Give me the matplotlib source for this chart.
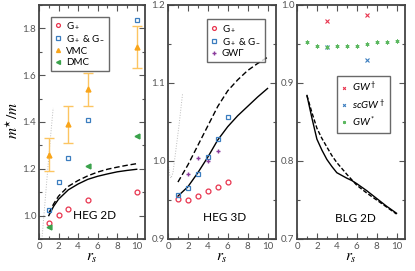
import matplotlib
matplotlib.use('Agg')
import matplotlib.pyplot as plt
from matplotlib.ticker import MultipleLocator

plt.rcParams['font.family'] = ['Lato', 'DejaVu Sans']
plt.rcParams['mathtext.fontset'] = 'custom'
plt.rcParams['mathtext.rm'] = 'Lato'
plt.rcParams['mathtext.it'] = 'Lato:italic'

# HEG 2D
g2_rs = [1, 2, 3, 5, 10]
g2_gp = [0.97, 1.003, 1.03, 1.065, 1.10]
g2_gpm = [1.025, 1.145, 1.245, 1.41, 1.835]
vmc_rs = [1, 3, 5, 10]
vmc_val = [1.26, 1.39, 1.54, 1.72]
vmc_err = [0.07, 0.08, 0.07, 0.09]
dmc_rs = [1, 5, 10]
dmc_val = [0.95, 1.21, 1.34]
c2_rs = [1, 1.5, 2, 3, 4, 5, 6, 7, 8, 9, 10]
c2_solid = [1.0, 1.04, 1.07, 1.11, 1.135, 1.155, 1.168, 1.178, 1.187, 1.193, 1.198]
c2_dash = [1.01, 1.05, 1.083, 1.125, 1.15, 1.17, 1.186, 1.198, 1.207, 1.215, 1.222]
gray2_rs = [0.3, 0.5, 0.8, 1.1, 1.45]
gray2_val = [0.9, 1.0, 1.15, 1.3, 1.46]

# HEG 3D
g3_rs = [1, 2, 3, 4, 5, 6]
g3_gp = [0.951, 0.950, 0.955, 0.961, 0.967, 0.973]
g3_gpm = [0.956, 0.965, 0.983, 1.005, 1.028, 1.057]
gwg_rs = [2, 3, 4, 5]
gwg_val = [0.983, 1.0035, 1.0005, 1.0125]
c3_rs = [1, 2, 3, 4, 5, 6, 7, 8, 9, 10]
c3_solid = [0.955, 0.967, 0.985, 1.005, 1.027, 1.044, 1.058, 1.07, 1.082, 1.093]
c3_dash = [0.973, 0.995, 1.02, 1.045, 1.07, 1.09, 1.104, 1.116, 1.125, 1.133]
gray3_rs = [0.0, 0.15, 0.3, 0.5, 0.8, 1.1, 1.47]
gray3_val = [0.999, 0.983, 0.978, 0.985, 1.015, 1.045, 1.087]

# BLG 2D
gwd_rs = [3, 7]
gwd_val = [0.979, 0.987]
scgw_rs = [3, 7]
scgw_val = [0.946, 0.929]
gws_rs = [1, 2, 3, 4, 5, 6, 7, 8, 9, 10]
gws_val = [0.952, 0.947, 0.946, 0.947, 0.947, 0.948, 0.950, 0.952, 0.953, 0.954]
cb_rs = [1, 1.5, 2, 2.5, 3, 3.5, 4, 5, 5.5, 6, 7, 8, 9, 10]
cb_solid = [0.884, 0.855, 0.828, 0.814, 0.802, 0.793, 0.785, 0.778, 0.775, 0.771, 0.762, 0.752, 0.742, 0.733]
cb_dash = [0.884, 0.862, 0.842, 0.829, 0.818, 0.807, 0.798, 0.783, 0.776, 0.769, 0.759, 0.750, 0.741, 0.732]

red = '#e8344e'
blue = '#3b7dbf'
orange = '#f9a51a'
green = '#3aa24b'
purple = '#8a3c9c'
edge = '#444444'

fig = plt.figure(figsize=(4.15, 2.71), dpi=100)
ax1 = fig.add_axes([39/415, 32/271, 106/415, 234/271])
ax2 = fig.add_axes([168/415, 32/271, 108/415, 234/271])
ax3 = fig.add_axes([297/415, 32/271, 108/415, 234/271])

for ax in (ax1, ax2, ax3):
    ax.set_xlim(0, 10.85)
    ax.xaxis.set_major_locator(MultipleLocator(2))
    ax.xaxis.set_minor_locator(MultipleLocator(1))
    ax.tick_params(which='both', direction='in', top=True, right=True,
                   labelsize=7, colors='#555555', pad=2)
    ax.tick_params(which='major', length=4, width=0.8)
    ax.tick_params(which='minor', length=2.5, width=0.8)
    for s in ax.spines.values():
        s.set_color(edge)
        s.set_linewidth(1.3)
    ax.set_xlabel('$r_s$', fontsize=11, labelpad=0, math_fontfamily='stix')

ms = 3.5
legkw = dict(frameon=True, fancybox=False, edgecolor=edge, handlelength=0.6,
             handletextpad=0.5, borderpad=0.4, labelspacing=0.25, markerscale=0.8)

# panel 1
ax1.plot(gray2_rs, gray2_val, color='#bbbbbb', lw=0.7, ls=':')
ax1.plot(c2_rs, c2_solid, color='black', lw=1.0)
ax1.plot(c2_rs, c2_dash, color='black', lw=1.0, ls=(0, (4, 2)))
h1, = ax1.plot(g2_rs, g2_gp, 'o', mfc='none', mec=red, ms=ms, mew=0.9)
h2, = ax1.plot(g2_rs, g2_gpm, 's', mfc='none', mec=blue, ms=ms, mew=0.9)
ax1.errorbar(vmc_rs, vmc_val, yerr=vmc_err, fmt='none',
             ecolor='#fcc561', elinewidth=1, capsize=3.5)
h3, = ax1.plot(vmc_rs, vmc_val, '^', color=orange, ms=ms)
h4, = ax1.plot(dmc_rs, dmc_val, '<', color=green, ms=ms)
ax1.set_ylim(0.9, 1.9)
ax1.yaxis.set_major_locator(MultipleLocator(0.2))
ax1.yaxis.set_minor_locator(MultipleLocator(0.1))
ax1.text(5.7, 1.0, 'HEG 2D', fontsize=8.5, ha='center', va='center')
ax1.legend([h1, h2, h3, h4], ['G$_+$', 'G$_+$ & G$_-$', 'VMC', 'DMC'],
           loc='upper left', bbox_to_anchor=(0.07, 0.97), fontsize=7, **legkw)

# panel 2
ax2.plot(gray3_rs, gray3_val, color='#bbbbbb', lw=0.7, ls=':')
ax2.plot(c3_rs, c3_solid, color='black', lw=1.0)
ax2.plot(c3_rs, c3_dash, color='black', lw=1.0, ls=(0, (4, 2)))
ax2.plot(g3_rs, g3_gp, 'o', mfc='none', mec=red, ms=ms, mew=0.9, label='G$_+$')
ax2.plot(g3_rs, g3_gpm, 's', mfc='none', mec=blue, ms=ms, mew=0.9, label='G$_+$ & G$_-$')
ax2.plot(gwg_rs, gwg_val, '+', color=purple, ms=ms, mew=1.0, label='GWΓ')
ax2.set_ylim(0.9, 1.2)
ax2.yaxis.set_major_locator(MultipleLocator(0.1))
ax2.yaxis.set_minor_locator(MultipleLocator(0.05))
ax2.text(5.7, 0.928, 'HEG 3D', fontsize=8.5, ha='center', va='center')
ax2.legend(loc='upper right', bbox_to_anchor=(0.94, 0.96), fontsize=7, **legkw)

# panel 3
ax3.plot(cb_rs, cb_solid, color='black', lw=1.0)
ax3.plot(cb_rs, cb_dash, color='black', lw=1.0, ls=(0, (3, 1.5)))
ax3.plot(gwd_rs, gwd_val, 'x', color=red, ms=2.5, mew=0.8, label='$GW^\\dagger$')
ax3.plot(scgw_rs, scgw_val, 'x', color=blue, ms=2.5, mew=0.8, label='$scGW^\\dagger$')
ax3.plot(gws_rs, gws_val, marker=(6, 2, 0), ls='none', color='#5cb860', ms=2.8, mew=0.7,
         label='$GW^*$')
ax3.set_ylim(0.7, 1.0)
ax3.yaxis.set_major_locator(MultipleLocator(0.1))
ax3.yaxis.set_minor_locator(MultipleLocator(0.05))
ax3.text(5.9, 0.726, 'BLG 2D', fontsize=8.5, ha='center', va='center')
ax3.legend(loc='upper right', bbox_to_anchor=(0.91, 0.72), fontsize=7.5, **legkw)

fig.text(13/415, 1 - 120/271, '$m^{\\star}/m$', rotation=90, fontsize=11,
         ha='center', va='center', math_fontfamily='stix')

fig.savefig('out.png', dpi=100)
